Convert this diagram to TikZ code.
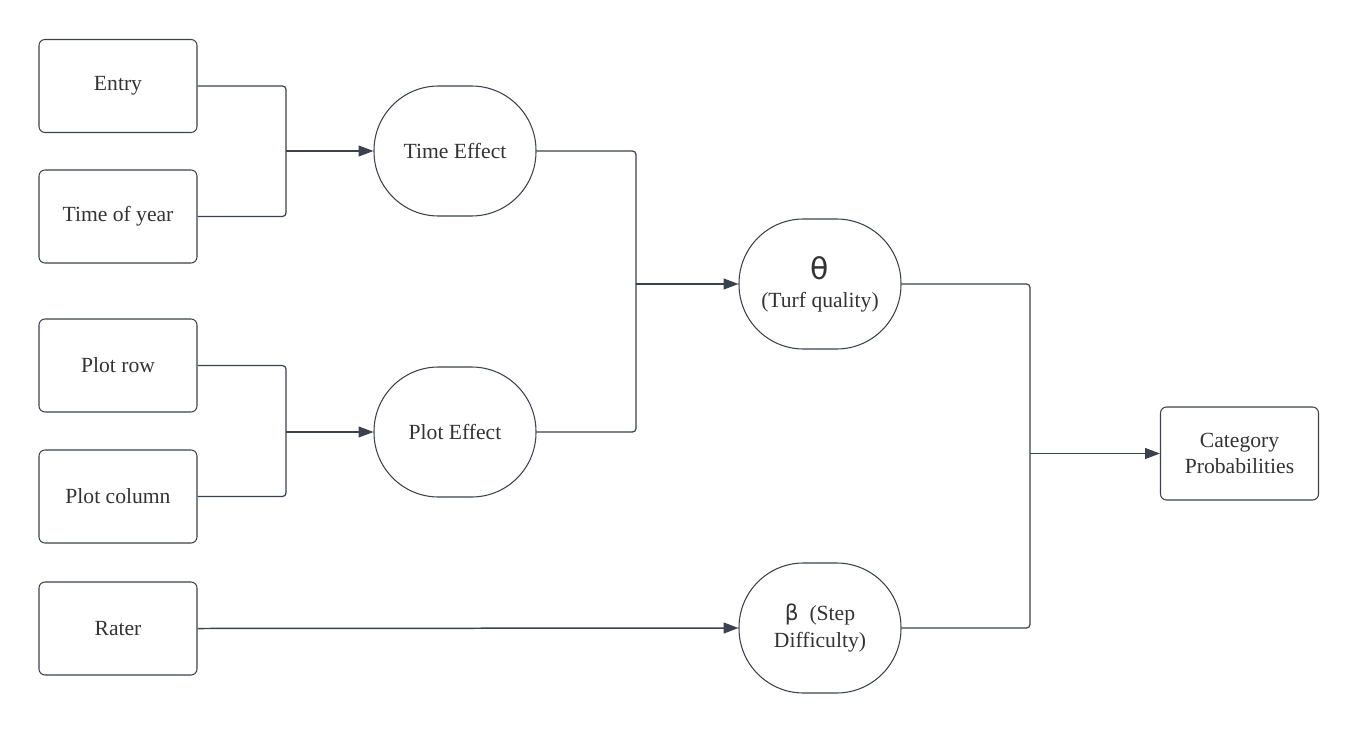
\documentclass[tikz,border=0pt]{standalone}
\usepackage{fontspec}
\setmainfont{Liberation Serif}
\newfontfamily\greekfont{DejaVu Sans}
\usetikzlibrary{arrows.meta}
\definecolor{linea}{HTML}{3B424D}
\definecolor{testo}{HTML}{333333}

\tikzset{
    box/.style={draw=linea, line width=0.6pt, rounded corners=3.4pt, minimum width=3.16cm, minimum height=1.86cm, text=testo, align=center, font=\fontsize{12.3}{15}\selectfont},
    tondo/.style={draw=linea, line width=0.6pt, rounded corners=1.29cm, minimum width=3.24cm, minimum height=2.6cm, inner sep=0pt, text=testo, align=center, font=\fontsize{12.3}{15}\selectfont},
    conn/.style={draw=linea, line width=0.7pt, rounded corners=2pt},
    freccia/.style={conn, line width=0.85pt, -{Triangle[length=8.5pt, width=6.2pt]}}
}

\begin{document}
\begin{tikzpicture}
\useasboundingbox (0, 0) rectangle (27.2, 14.68);

% ingressi
\foreach \nome/\y/\testo in {entry/12.96/Entry, year/10.35/Time of year, row/7.37/Plot row, col/4.75/Plot column, rater/2.11/Rater} {
    \node[box] (\nome) at (2.36, \y) {\testo};
}

% effetti
\node[tondo] (time) at (9.10, 11.66) {Time Effect};
\node[tondo] (plot) at (9.10, 6.04) {Plot Effect};
\node[tondo] (theta) at (16.40, 9.00) {{\greekfont\fontsize{17}{20}\selectfont θ}\\[1pt](Turf quality)};
\node[tondo] (beta) at (16.40, 2.12) {{\greekfont β}\ \ (Step\\Difficulty)};

% uscita
\node[box] (cat) at (24.79, 5.61) {Category\\Probabilities};

% giunzioni
\coordinate (jtime) at (5.72, 11.66);
\coordinate (jplot) at (5.72, 6.04);
\coordinate (jtheta) at (12.72, 9.00);
\coordinate (jcat) at (20.60, 5.61);

\draw[conn] (entry.east) -| (jtime);
\draw[conn] (year.east) -| (jtime);
\draw[freccia] (jtime) -- (time.west);

\draw[conn] (row.east) -| (jplot);
\draw[conn] (col.east) -| (jplot);
\draw[freccia] (jplot) -- (plot.west);

\draw[conn] (time.east) -| (jtheta);
\draw[conn] (plot.east) -| (jtheta);
\draw[freccia] (jtheta) -- (theta.west);

\draw[freccia] (rater.east) -- (beta.west);

\draw[conn] (theta.east) -| (jcat);
\draw[conn] (beta.east) -| (jcat);
\draw[freccia] (jcat) -- (cat.west);
\end{tikzpicture}
\end{document}
